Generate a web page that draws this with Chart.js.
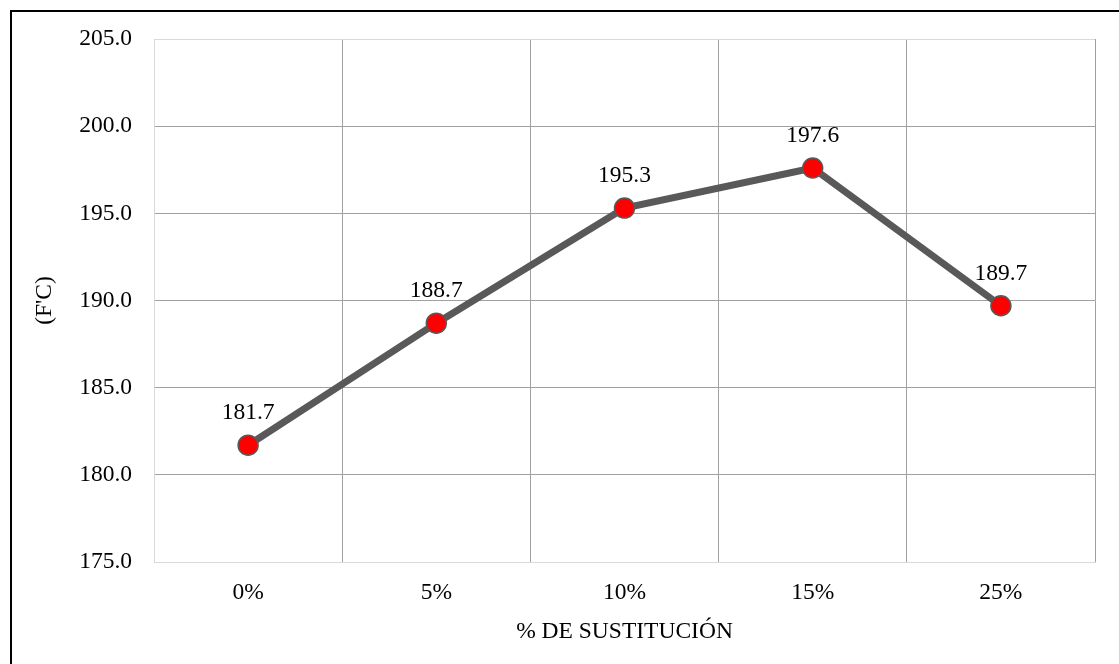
<!DOCTYPE html>
<html>
<head>
<meta charset="utf-8">
<script src="https://cdn.jsdelivr.net/npm/chart.js@4.4.0/dist/chart.umd.min.js"></script>
<style>
  body { margin: 0; background: #fff; }
  #wrap { position: relative; width: 1119px; height: 664px; }
  #frame { position: absolute; left: 10px; top: 10px; right: -10px; bottom: -10px; border-left: 2px solid #000; border-top: 2px solid #000; pointer-events: none; }
</style>
</head>
<body>
<div id="wrap">
  <canvas id="myChart" width="1119" height="664"></canvas>
  <div id="frame"></div>
</div>
<script>
var categories = ['0%', '5%', '10%', '15%', '25%'];
var values = [181.7, 188.7, 195.3, 197.6, 189.7];
var yMin = 175, yMax = 205, yStep = 5;

var serif = "'Liberation Serif', 'Times New Roman', serif";
var fontSize = 23.5;

// labels above each point
var pointLabels = {
    id: 'pointLabels',
    afterDatasetsDraw: function(chart) {
        var c = chart.ctx;
        var meta = chart.getDatasetMeta(0);
        c.save();
        c.font = fontSize + 'px ' + serif;
        c.fillStyle = '#000';
        c.textAlign = 'center';
        c.textBaseline = 'middle';
        meta.data.forEach(function(pt, i) {
            c.fillText(values[i].toFixed(1), pt.x, pt.y - 32);
        });
        c.restore();
    }
};

var ctx = document.getElementById('myChart');

var myChart = new Chart(ctx, {
    type: 'line',
    data: {
        labels: categories,
        datasets: [{
            data: values,
            borderColor: '#595959',
            borderWidth: 7,
            pointRadius: 10,
            pointHoverRadius: 10,
            pointBackgroundColor: '#ff0000',
            pointBorderColor: '#595959',
            pointBorderWidth: 1.5,
            tension: 0
        }]
    },
    plugins: [pointLabels],
    options: {
        responsive: false,
        animation: false,
        layout: { padding: { top: 39, right: 24, left: 0, bottom: 0 } },
        plugins: {
            legend: { display: false },
            tooltip: { enabled: false }
        },
        scales: {
            x: {
                offset: true,
                grid: {
                    offset: true,
                    drawTicks: false,
                    color: function(c) { return c.index === 0 ? '#d9d9d9' : '#a0a0a0'; }
                },
                border: { color: '#d9d9d9' },
                ticks: { color: '#000', font: { family: serif, size: fontSize }, padding: 17 },
                title: {
                    display: true,
                    text: '% DE SUSTITUCIÓN',
                    color: '#000',
                    font: { family: serif, size: fontSize },
                    padding: { top: 0, bottom: 18 }
                },
                afterFit: function(s) { s.height = 102; }
            },
            y: {
                min: yMin,
                max: yMax,
                ticks: {
                    stepSize: yStep,
                    color: '#000',
                    font: { family: serif, size: fontSize },
                    padding: 22,
                    callback: function(v) { return v.toFixed(1); }
                },
                grid: {
                    drawTicks: false,
                    color: function(c) { return (c.index === 0 || c.tick.value === yMax) ? '#d9d9d9' : '#a0a0a0'; }
                },
                border: { color: '#d9d9d9' },
                title: {
                    display: true,
                    text: "(F'C)",
                    color: '#000',
                    font: { family: serif, size: fontSize },
                    padding: { top: 31, bottom: 0 }
                },
                afterFit: function(s) { s.width = 154; }
            }
        }
    }
});
</script>
</body>
</html>
